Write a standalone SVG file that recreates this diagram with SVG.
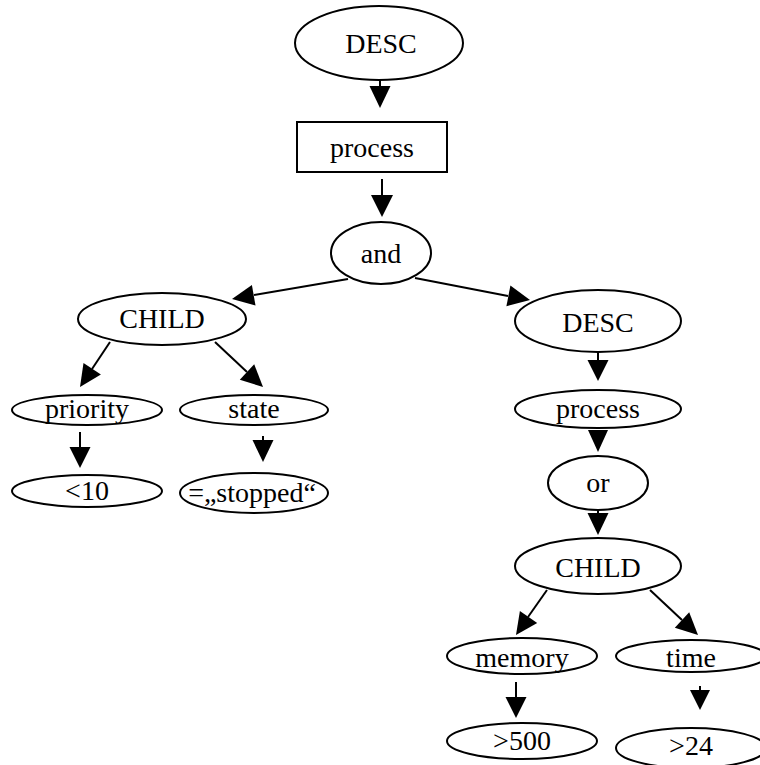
<svg xmlns="http://www.w3.org/2000/svg" width="760" height="765" viewBox="0 0 760 765">
<style>
.n{fill:#fff;stroke:#000;stroke-width:2}
.t{font-family:"Liberation Serif","Times New Roman",serif;font-size:28px;fill:#000;text-anchor:middle}
.e line{stroke:#000;stroke-width:2}
.e polygon{fill:#000;stroke:none}
</style>
<rect width="760" height="765" fill="#fff"/>
<g id="connectors" class="e">
<line x1="380" y1="80" x2="380" y2="87"/><polygon points="369.5,86 390.5,86 380,108"/>
<line x1="382" y1="179" x2="382" y2="196"/><polygon points="371,195 393,195 382,217"/>
<line x1="348" y1="279" x2="254" y2="295"/><polygon points="255.5,305.6 251.9,284.9 232,299"/>
<line x1="415" y1="278" x2="508" y2="296"/><polygon points="506.4,306.2 510.4,285.6 530,300"/>
<line x1="110" y1="342" x2="92" y2="369"/><polygon points="100.9,374.5 83.5,362.9 80,387"/>
<line x1="215" y1="342" x2="247" y2="372"/><polygon points="239.8,379.7 254.2,364.3 263,387"/>
<line x1="80" y1="432" x2="80" y2="448"/><polygon points="69.5,447 90.5,447 80,468"/>
<line x1="263" y1="436" x2="263" y2="441"/><polygon points="252.5,440 273.5,440 263,462"/>
<line x1="598" y1="352" x2="598" y2="361"/><polygon points="587.5,360 608.5,360 598,381"/>
<polygon points="588,430 608,430 598,452"/>
<line x1="598" y1="505" x2="598" y2="514"/><polygon points="587.5,513 608.5,513 598,535"/>
<line x1="547" y1="590" x2="528" y2="617"/><polygon points="537.2,622.9 519.9,610.9 516,635"/>
<line x1="650" y1="590" x2="682" y2="620"/><polygon points="674.8,627.7 689.2,612.3 698,635"/>
<line x1="516" y1="682" x2="516" y2="698"/><polygon points="505.5,697 526.5,697 516,718"/>
<line x1="700" y1="686" x2="700" y2="691"/><polygon points="690,690 710,690 700,710"/>
</g>
<g id="desc1"><ellipse class="n" cx="379" cy="43" rx="84" ry="37"/><text class="t" x="381" y="53">DESC</text></g>
<g id="process1"><rect class="n" x="297" y="122" width="150" height="50"/><text class="t" x="372" y="157">process</text></g>
<g id="and"><ellipse class="n" cx="381" cy="253" rx="50" ry="31"/><text class="t" x="381" y="263">and</text></g>
<g id="child1"><ellipse class="n" cx="162" cy="319" rx="84" ry="26"/><text class="t" x="162" y="328">CHILD</text></g>
<g id="priority"><ellipse class="n" cx="87" cy="410" rx="75" ry="15"/><text class="t" x="87" y="418">priority</text></g>
<g id="state"><ellipse class="n" cx="254" cy="410" rx="74" ry="15"/><text class="t" x="254" y="418">state</text></g>
<g id="lt10"><ellipse class="n" cx="87" cy="491" rx="75" ry="16"/><text class="t" x="87" y="500">&lt;10</text></g>
<g id="stopped"><ellipse class="n" cx="254" cy="493" rx="74" ry="20"/><text class="t" x="252" y="502">=„stopped“</text></g>
<g id="desc2"><ellipse class="n" cx="598" cy="321" rx="83" ry="31"/><text class="t" x="598" y="332">DESC</text></g>
<g id="process2"><ellipse class="n" cx="598" cy="409" rx="83" ry="19"/><text class="t" x="598" y="418">process</text></g>
<g id="or"><ellipse class="n" cx="598" cy="483" rx="50" ry="27"/><text class="t" x="598" y="492">or</text></g>
<g id="child2"><ellipse class="n" cx="598" cy="566" rx="83" ry="28"/><text class="t" x="598" y="577">CHILD</text></g>
<g id="memory"><ellipse class="n" cx="522" cy="656" rx="75" ry="18"/><text class="t" x="522" y="667">memory</text></g>
<g id="time"><ellipse class="n" cx="691" cy="656" rx="75" ry="16"/><text class="t" x="691" y="667">time</text></g>
<g id="gt500"><ellipse class="n" cx="522" cy="741" rx="75" ry="18"/><text class="t" x="522" y="750">&gt;500</text></g>
<g id="gt24"><ellipse class="n" cx="691" cy="748" rx="75" ry="20"/><text class="t" x="691" y="755">&gt;24</text></g>
</svg>
